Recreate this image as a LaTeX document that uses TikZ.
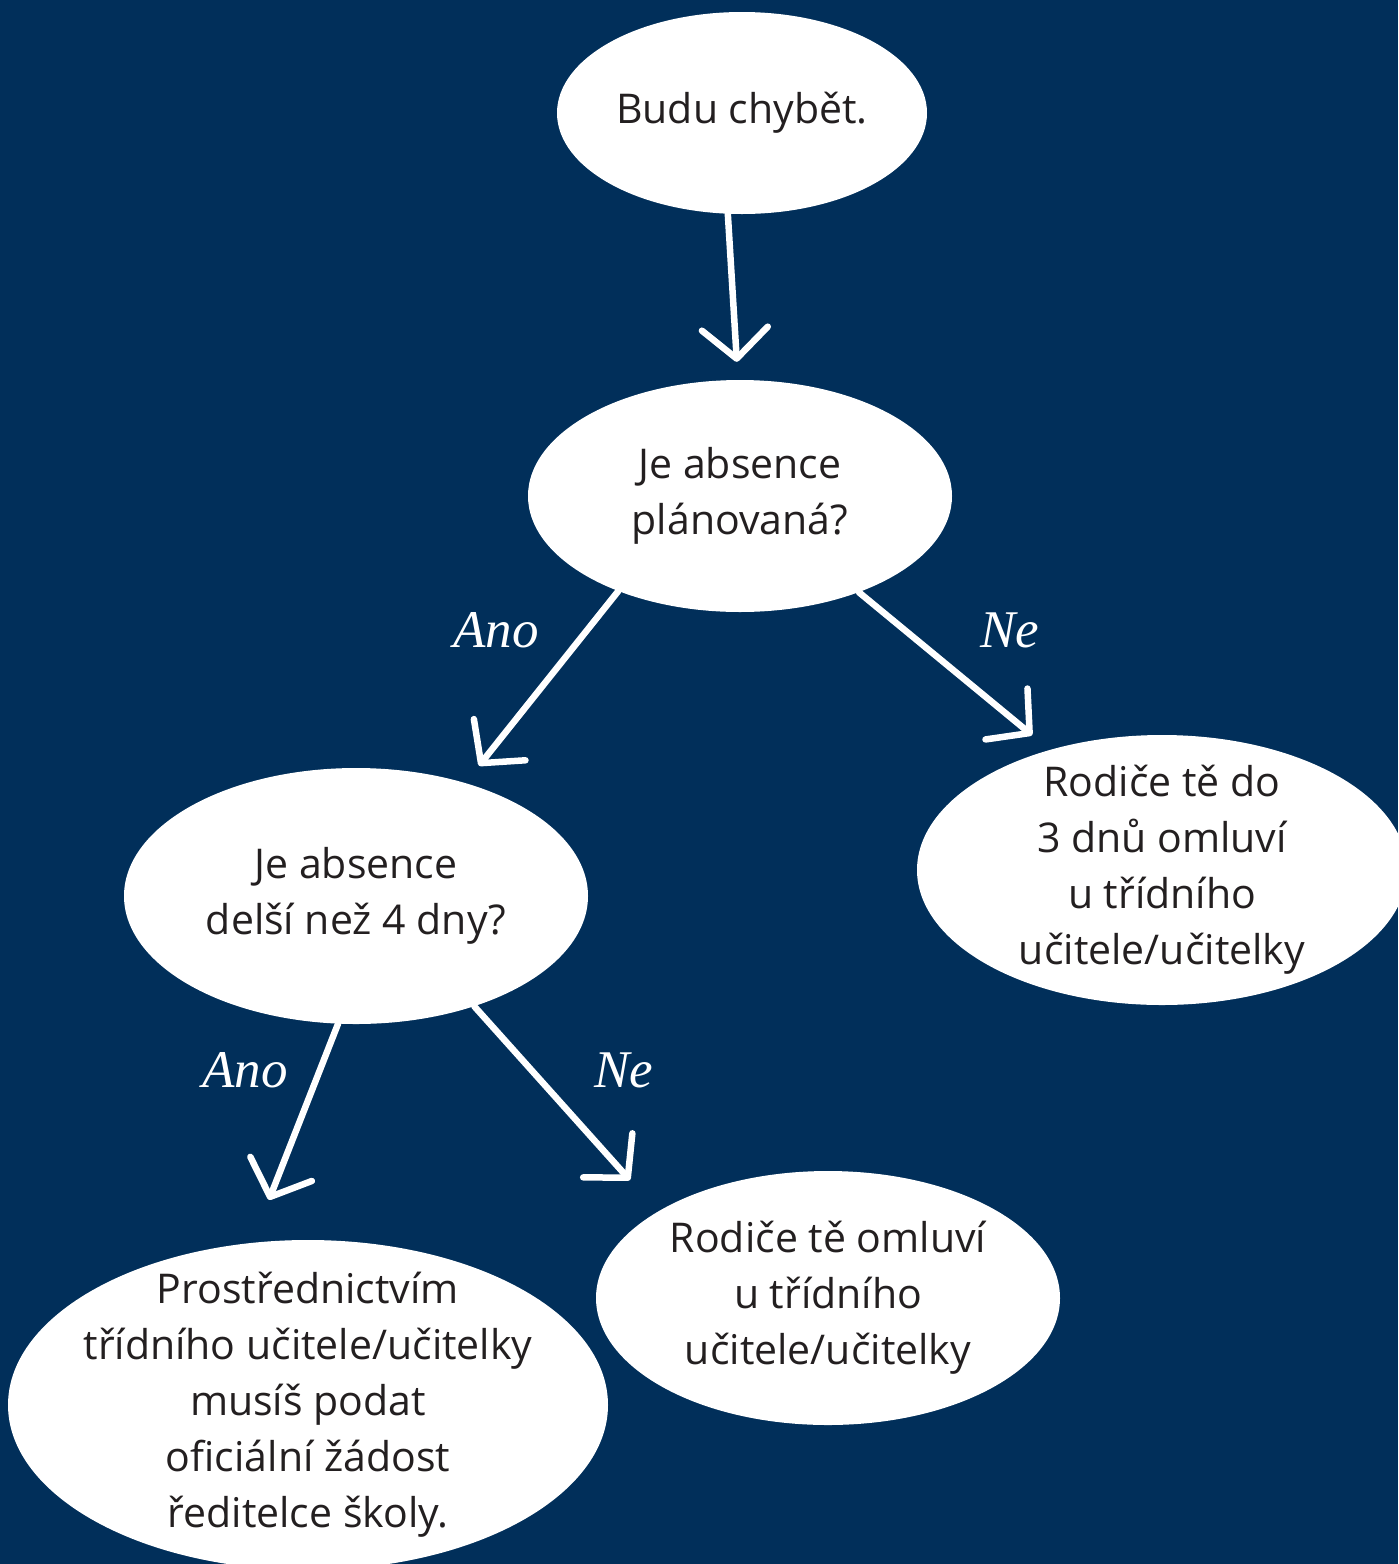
\documentclass[tikz,border=0pt]{standalone}
\usepackage{fontspec}
\setmainfont{Open Sans}
\newfontfamily\labelfont{Liberation Serif}
\usetikzlibrary{shapes.geometric,arrows.meta}
\definecolor{navy}{RGB}{1,47,90}
\definecolor{ink}{RGB}{35,31,32}
\tikzset{
  blob/.style={ellipse, fill=white, inner xsep=-20pt, inner ysep=-30pt,
    align=center, text=ink, font=\fontsize{41}{56}\selectfont},
  arr/.style={draw=white, line width=6.5pt, line cap=round,
    -{Straight Barb[length=30pt,width=66pt,round]}},
  lbl/.style={text=white, font=\labelfont\itshape\fontsize{53}{60}\selectfont}
}
\begin{document}
\begin{tikzpicture}[x=1pt,y=-1pt]
\fill[navy] (0,0) rectangle (1398,1564);
\clip (0,0) rectangle (1398,1564);
% the questions and answers
\node[blob, minimum width=370pt, minimum height=202pt] (start) at (742,113) {Budu chybět.};
\node[blob, minimum width=424pt, minimum height=232pt] (plan) at (740,496) {Je absence\\plánovaná?};
\node[blob, minimum width=464pt, minimum height=256pt] (long) at (356,896) {Je absence\\delší než 4 dny?};
\node[blob, minimum width=490pt, minimum height=270pt] (short) at (1162,870) {Rodiče tě do\\3 dnů omluví\\u třídního\\učitele/učitelky};
\node[blob, minimum width=464pt, minimum height=254pt] (parents) at (828,1298) {Rodiče tě omluví\\u třídního\\učitele/učitelky};
\node[blob, minimum width=600pt, minimum height=330pt] (official) at (308,1405) {Prostřednictvím\\třídního učitele/učitelky\\musíš podat\\oficiální žádost\\ředitelce školy.};
% arrows
\draw[arr, shorten >=18pt] (start.262) -- (plan.91);
\draw[arr, shorten >=22pt] (plan.218) -- (long.46);
\draw[arr, shorten >=23pt] (plan.321) -- (short.133);
\draw[arr, shorten >=46pt] (long.262) -- (official.109);
\draw[arr, shorten >=42pt] (long.317) -- (parents.153);
% labels
\node[lbl] (yes1) at (496,630) {Ano};
\node[lbl] (no1) at (1010,630) {Ne};
\node[lbl] (yes2) at (245,1070) {Ano};
\node[lbl] (no2) at (624,1070) {Ne};
\end{tikzpicture}
\end{document}
